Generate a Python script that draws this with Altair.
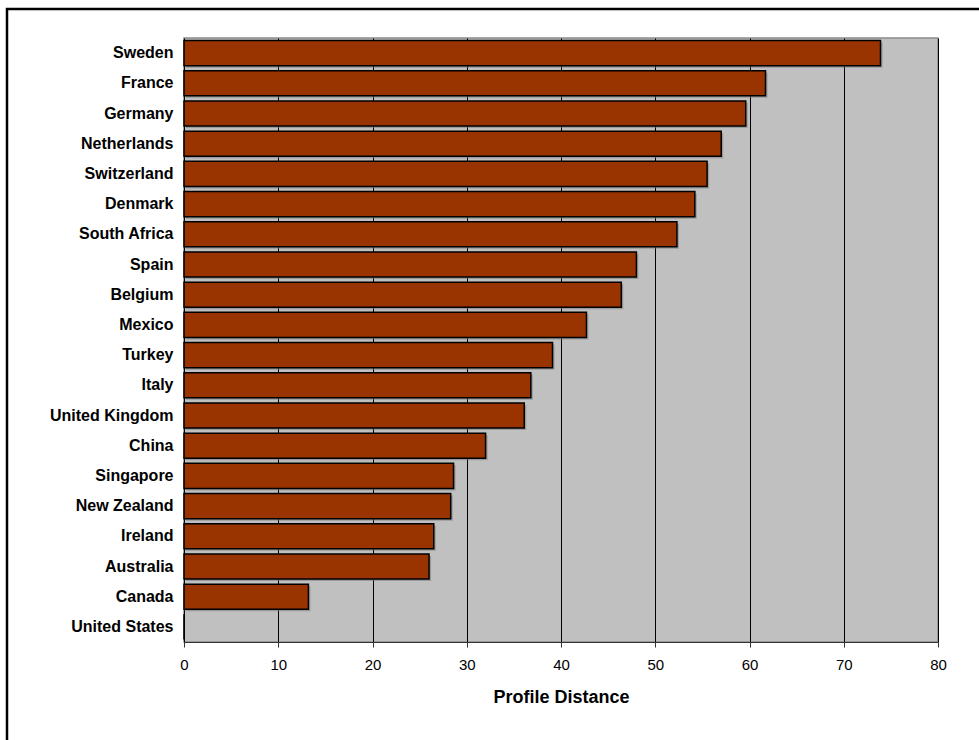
import altair as alt
import pandas as pd

countries = ["Sweden", "France", "Germany", "Netherlands", "Switzerland", "Denmark",
             "South Africa", "Spain", "Belgium", "Mexico", "Turkey", "Italy",
             "United Kingdom", "China", "Singapore", "New Zealand", "Ireland",
             "Australia", "Canada", "United States"]
distance = [73.9, 61.7, 59.6, 57.0, 55.5, 54.2, 52.3, 48.0, 46.4, 42.7, 39.1, 36.8,
            36.1, 32.0, 28.6, 28.3, 26.5, 26.0, 13.2, 0.0]
x_ticks = [0, 10, 20, 30, 40, 50, 60, 70, 80]

df = pd.DataFrame({"country": countries, "distance": distance})

FONT = "Liberation Sans"

y_enc = alt.Y("country:N", sort=countries, title=None,
              scale=alt.Scale(paddingInner=0.17, paddingOuter=0.085),
              axis=alt.Axis(ticks=False, domain=False, grid=False, labelPadding=11,
                            labelFont=FONT, labelFontSize=16, labelFontWeight="bold",
                            labelColor="black"))
x_enc = alt.X("distance:Q", title="Profile Distance",
              scale=alt.Scale(domain=[0, 80], nice=False),
              axis=alt.Axis(values=x_ticks, format="d", grid=True, gridColor="black",
                            gridWidth=1, gridOpacity=1, tickSize=5, tickColor="#333333",
                            domainColor="#333333", labelPadding=10, labelFlush=False,
                            labelFont=FONT, labelFontSize=15, labelColor="black",
                            titleFont=FONT, titleFontSize=18, titleFontWeight="bold",
                            titleColor="black", titlePadding=16))

shadow = alt.Chart(df).mark_bar(color="#7a7a7a", opacity=0.55, xOffset=2, yOffset=2).encode(
    x=x_enc, y=y_enc)
bars = alt.Chart(df).mark_bar(color="#993300", stroke="black", strokeWidth=1.5).encode(
    x=x_enc, y=y_enc)

frame = alt.Chart(pd.DataFrame({"a": [0]})).mark_rect(
    fill=None, stroke="black", strokeWidth=2.5, clip=False).encode(
    x=alt.value(-177), x2=alt.value(900), y=alt.value(-29), y2=alt.value(740))

chart = alt.layer(shadow, bars, frame).properties(
    width=754, height=604,
    autosize=alt.AutoSizeParams(type="none"),
    padding={"left": 184, "top": 38, "right": 41, "bottom": 98},
    background="white",
).configure_view(fill="#C0C0C0", stroke="#8a8a8a", strokeWidth=1.5)

chart.save("out.html", embed_options={"renderer": "svg", "actions": False})
